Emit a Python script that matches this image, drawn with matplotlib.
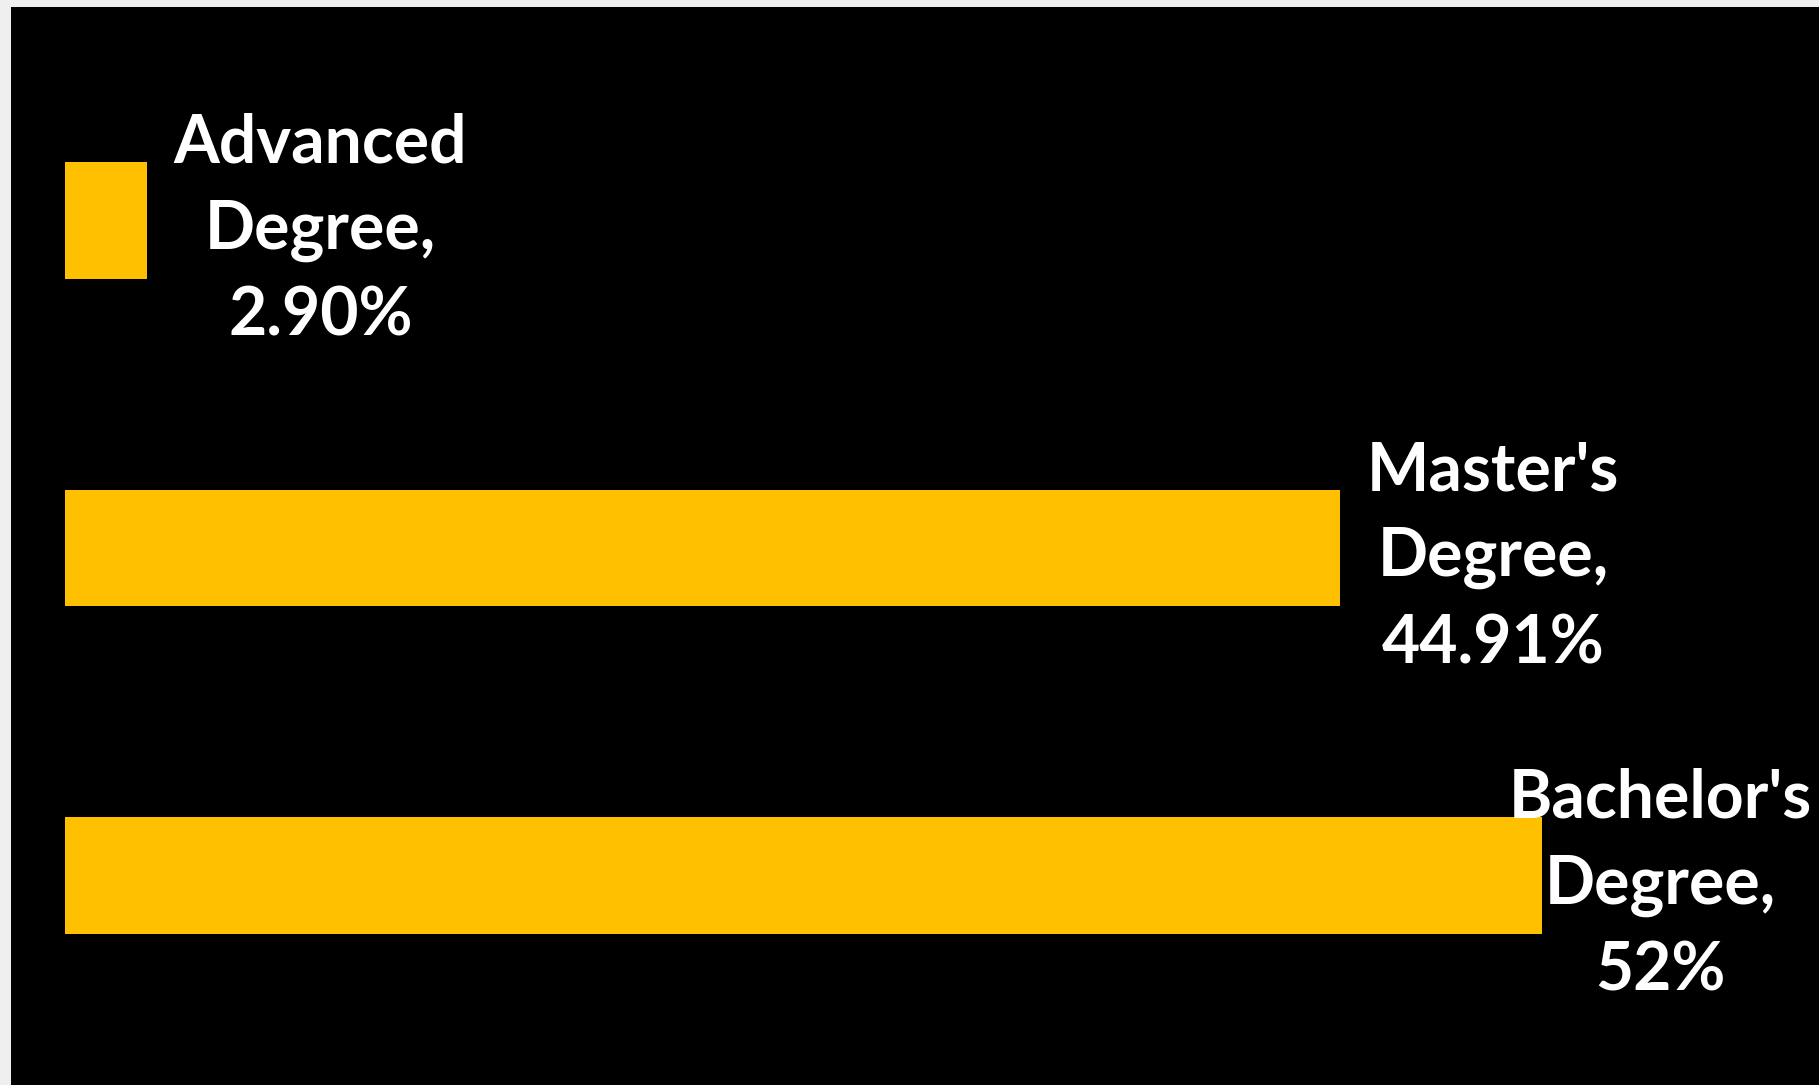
import matplotlib.pyplot as plt

# bars listed bottom to top
categories = ["Bachelor's\nDegree", "Master's\nDegree", "Advanced\nDegree"]
values = [52, 44.91, 2.90]
value_labels = ["52%", "44.91%", "2.90%"]

W, H = 1819, 1085
fig = plt.figure(figsize=(W / 100, H / 100), dpi=100, facecolor='#efefef')
ax = fig.add_axes([11 / W, 0, 1 - 11 / W, 1 - 7 / H])
ax.set_facecolor('black')

y = list(range(len(values)))
ax.barh(y, values, height=0.355, color='#FFC000')
ax.set_xlim(-1.90, 61.76)
ax.set_ylim(-0.64, 2.652)
ax.set_xticks([])
ax.set_yticks([])
for s in ax.spines.values():
    s.set_visible(False)

# data labels at the outside end, pushed back inside the chart if needed
texts = []
for yi, v, cat, lab in zip(y, values, categories, value_labels):
    t = ax.annotate(cat + ",\n" + lab, xy=(v, yi), xytext=(19, -7),
                    textcoords='offset points', ha='left', va='center',
                    multialignment='center', color='white',
                    fontsize=47.5, fontweight='bold', family='Lato',
                    linespacing=1.48)
    texts.append(t)

fig.canvas.draw()
r = fig.canvas.get_renderer()
right = ax.get_window_extent(r).x1 - 7
for t in texts:
    bb = t.get_window_extent(r)
    if bb.x1 > right:
        dx, dy = t.get_position()
        t.set_position((dx - (bb.x1 - right) * 72 / fig.dpi, dy))

fig.savefig('out.png', dpi=100, facecolor=fig.get_facecolor())
